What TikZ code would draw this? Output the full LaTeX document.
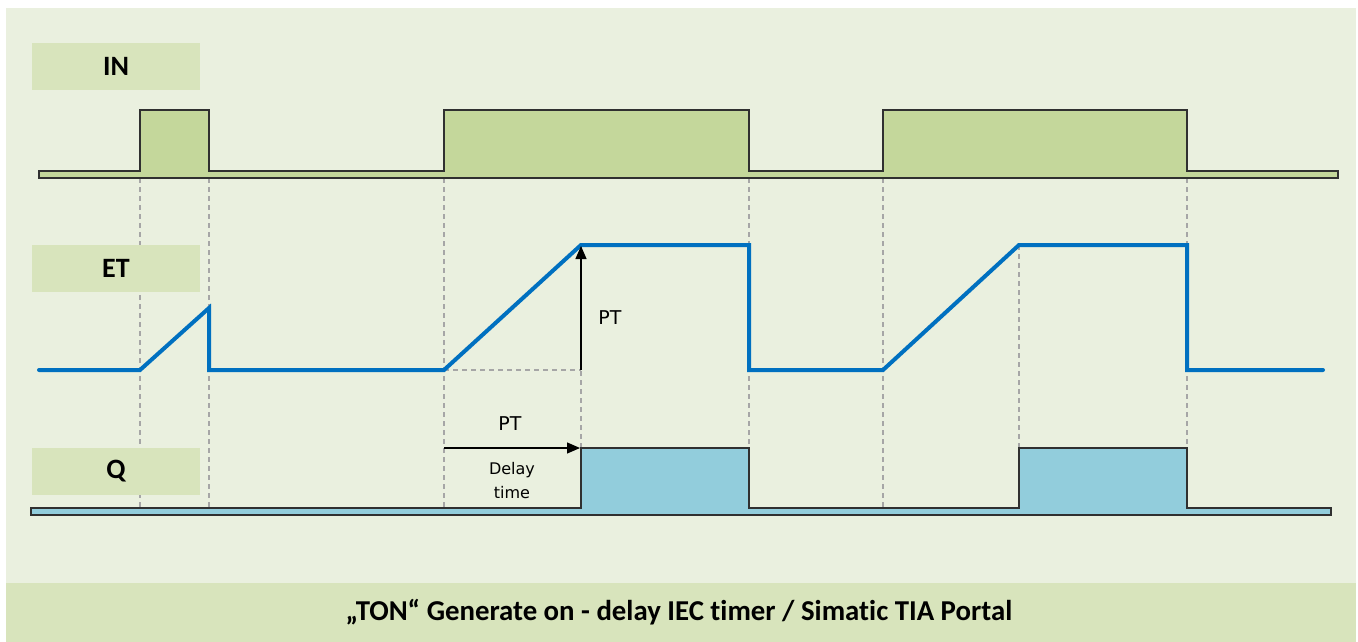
\documentclass[tikz,border=0pt]{standalone}
\usepackage{fontspec}
\setmainfont{Carlito}[Ligatures=NoCommon]
\newfontfamily\tah{DejaVu Sans}
\usetikzlibrary{arrows.meta}
\definecolor{bgmain}{HTML}{EAF0DF}
\definecolor{bglab}{HTML}{D8E4BC}
\definecolor{infill}{HTML}{C4D79B}
\definecolor{qfill}{HTML}{92CDDC}
\definecolor{etblue}{HTML}{0070C0}
\definecolor{dashgray}{HTML}{A6A6A6}
\definecolor{outl}{HTML}{303030}
\tikzset{
  lab/.style={fill=bglab, minimum width=168pt, minimum height=47pt, inner sep=0pt, font=\bfseries\fontsize{28}{30}\selectfont},
  guide/.style={draw=dashgray, dash pattern=on 5pt off 4pt, line width=1.2pt},
  sig/.style={draw=outl, line width=1.3pt, line join=miter},
  etline/.style={draw=etblue, line width=4pt, line join=miter, line cap=round},
  dimarrow/.style={draw=black, line width=1.2pt, -{Triangle[length=13pt,width=11pt]}},
  txt/.style={font=\tah\fontsize{19}{21}\selectfont, inner sep=0pt}
}
\begin{document}
\begin{tikzpicture}[x=1pt,y=-1pt]
\useasboundingbox (0,0) rectangle (1358,642);
\fill[white] (0,0) rectangle (1358,642);
\fill[bgmain] (6,8) rectangle (1356,583);
\fill[bglab] (6,583) rectangle (1356,642);
% guides
\foreach \gx in {140,209,444,749,883,1187} \draw[guide] (\gx,178) -- (\gx,508);
\draw[guide] (581,245) -- (581,448);
\draw[guide] (1019,245) -- (1019,448);
\draw[guide] (444,370) -- (581,370);
% labels
\node[lab] (lin) at (116,66.5) {IN};
\node[lab] (let) at (116,268.5) {ET};
\node[lab] (lq) at (116,471.5) {Q};
% IN signal
\draw[sig, fill=infill] (39,171) -- (140,171) -- (140,110) -- (209,110) -- (209,171) -- (444,171) -- (444,110) -- (749,110) -- (749,171) -- (883,171) -- (883,110) -- (1187,110) -- (1187,171) -- (1338,171) -- (1338,178) -- (39,178) -- cycle;
% Q signal
\draw[sig, fill=qfill] (31,508) -- (581,508) -- (581,448) -- (749,448) -- (749,508) -- (1019,508) -- (1019,448) -- (1187,448) -- (1187,508) -- (1331,508) -- (1331,515) -- (31,515) -- cycle;
% ET signal
\draw[etline] (39,370) -- (140,370) -- (209,308) -- (209,370) -- (444,370) -- (581,245) -- (749,245) -- (749,370) -- (883,370) -- (1019,245) -- (1187,245) -- (1187,370) -- (1323,370);
% PT arrows
\coordinate (ptb) at (581,370);
\coordinate (ptt) at (581,246);
\draw[dimarrow] (ptb) -- (ptt);
\node[txt] (pt1) at (610,318) {PT};
\coordinate (dl) at (444,448);
\coordinate (dr) at (580,448);
\draw[dimarrow] (dl) -- (dr);
\node[txt] (pt2) at (510,424) {PT};
\node[font=\tah\fontsize{16}{24}\selectfont, align=center, inner sep=0pt] (dt) at (512,481) {Delay\\time};
% title
\node[font=\bfseries\fontsize{28.8}{30}\selectfont, inner sep=0pt] (title) at (679,612) {„TON“ Generate on - delay IEC timer / Simatic TIA Portal};
\end{tikzpicture}
\end{document}
